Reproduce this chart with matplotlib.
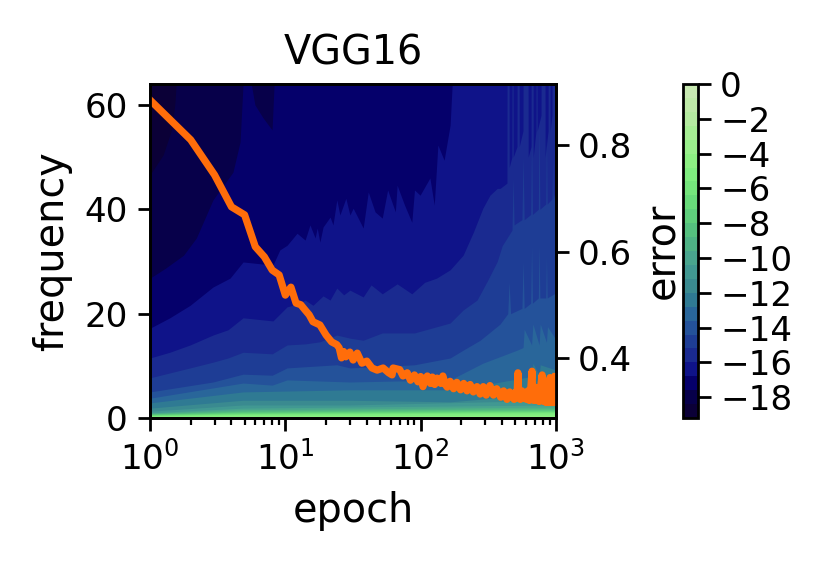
import matplotlib
matplotlib.use("Agg")
import matplotlib.pyplot as plt
from matplotlib.colors import ListedColormap, BoundaryNorm
from matplotlib.cm import ScalarMappable

# band colours, low error to high error
band_colors = ["#0b0037", "#07004a", "#05006b", "#0f1389", "#1a2a90", "#1e3d95",
               "#24529a", "#29669a", "#2f7a93", "#3a8a90", "#419892", "#49a58e",
               "#4eb285", "#55c07f", "#5fcf7c", "#68db7a", "#75e57c", "#80ed80",
               "#8df083", "#9af08c", "#a7ee94", "#b5eba0", "#bfeaa8", "#c8e9b2"]
levels = [-19.2, -18.4, -17.6, -16.8, -16.0, -15.2, -14.4, -13.6, -12.8, -12.0, -11.2,
          -10.4, -9.6, -8.8, -8.0, -7.2, -6.4, -5.6, -4.8, -4.0, -3.2, -2.4, -1.6, -0.8, 0.0]
cbar_ticks = [0, -2, -4, -6, -8, -10, -12, -14, -16, -18]

# contour boundaries: frequency below which the error exceeds each level
b1_e = [1, 1.25, 1.46, 1.53, 1.56, 1000]
b1_f = [46.6, 50.4, 55.6, 60.5, 64, 64]
b2_e = [1, 1.3, 1.77, 2.2, 2.92, 4.1, 4.63, 4.87, 1000]
b2_f = [26.8, 28.7, 31.2, 34.5, 41.8, 47.1, 52.9, 64, 64]
patch_e = [5.6, 5.96, 6.85, 7.98, 8.26]
patch_f = [64, 60, 57.5, 55.2, 64]
b3_e = [1, 1.4, 1.98, 2.92, 3.9, 4.87, 8.1, 9.1, 10.3, 12.2, 14, 15.2, 16.6, 17.2, 18, 19,
        21.4, 22.5, 24, 25.3, 28, 30, 31.7, 37.6, 41, 46, 52, 57, 65, 67, 76, 86, 90, 99,
        117, 126, 134, 149, 165, 171, 1000]
b3_f = [17.2, 19.2, 21.6, 25.1, 26.8, 29.9, 29.3, 32.2, 33.1, 35.4, 34.1, 37, 34.5, 36.4,
        33.7, 36.6, 38.5, 37, 41.8, 38.9, 42.1, 38.9, 40.2, 36.4, 43.3, 39.5, 38.3, 43.7,
        39.5, 44.6, 40.8, 37.5, 43.7, 42.7, 46, 40.8, 52.3, 49.4, 56.1, 64, 64]
b4_e = [1, 1.4, 1.98, 2.92, 3.77, 4.87, 8.1, 10.3, 12.2, 14, 16, 19, 21.4, 24, 27, 30, 37.6,
        43, 52, 67, 86, 107, 131, 165, 206, 245, 288, 325, 368, 386, 434, 435, 450, 451,
        472, 473, 482, 483, 515, 516, 534, 535, 570, 571, 622, 623, 654, 655, 678, 679,
        711, 712, 725, 726, 775, 776, 830, 831, 874, 875, 904, 905, 934, 935, 1000]
b4_f = [11.5, 12.6, 14, 15.9, 16.9, 19.2, 18.6, 21.3, 21.8, 22.6, 21.6, 23.4, 22.6, 24.9,
        23.6, 24.5, 23.2, 25.5, 23.8, 25.7, 23.8, 26, 26.8, 28.4, 31.2, 35.6, 40.2, 42.7,
        44, 44, 45, 64, 64, 48, 50, 64, 64, 50, 52, 64, 64, 52, 55, 64, 64, 50, 52, 64, 64,
        50, 55, 64, 64, 55, 58, 64, 64, 50, 55, 64, 64, 55, 58, 64, 64]
b5_e = [1, 1.98, 2.92, 3.77, 4.87, 8, 10.3, 14, 18, 24, 30, 37.6, 52, 90, 165, 206, 261,
        313, 368, 400, 473, 482, 490, 560, 571, 582, 650, 660, 670, 740, 750, 760, 840,
        850, 860, 935, 945, 955, 1000]
b5_f = [7.7, 9.6, 10.7, 11.5, 12.6, 12.3, 14, 14.2, 14.6, 15.9, 15.3, 14.9, 16.3, 16.3,
        18.2, 20.7, 22.6, 26.4, 30, 33, 36, 46, 37, 38, 50, 38, 39, 54, 39, 40, 56, 40, 41,
        54, 41, 42, 50, 42, 44]
b6_e = [1, 2.92, 4.87, 8, 10.3, 24, 30, 90, 165, 206, 275, 386, 440, 450, 462, 560, 571,
        582, 650, 660, 670, 740, 750, 760, 840, 850, 860, 1000]
b6_f = [5, 6.9, 8.4, 8.2, 9.6, 10.2, 9.6, 10.2, 11.5, 13, 14.9, 18, 20, 26, 20, 21, 30,
        21, 22, 33, 22, 23, 33, 23, 23, 31, 23, 24]
b7_e = [1, 4.87, 8, 10.3, 30, 165, 288, 516, 571, 582, 660, 675, 750, 765, 850, 865, 1000]
b7_f = [3.8, 6.7, 6.3, 7.3, 6.9, 7.3, 10.5, 13, 13.5, 17, 14, 18, 14, 18, 14.5, 17.5, 15]
b8_e = [1, 4.87, 30, 165, 288, 640, 660, 675, 750, 765, 1000]
b8_f = [2.9, 5, 5.4, 5.4, 6.3, 7.9, 8, 10.5, 8.2, 10.2, 9.2]
b9_e = [1, 4.87, 30, 165, 640, 1000]
b9_f = [1.9, 3.4, 3.4, 3.1, 4.4, 5]
b10_e = [1, 4.87, 30, 1000]
b10_f = [1.3, 2.5, 2.5, 3.4]
b11_e = [1, 4.87, 1000]
b11_f = [1.0, 1.9, 2.5]
b12_f = [0.9, 1.6, 2.1]
b13_f = [0.8, 1.35, 1.8]
b14_f = [0.7, 1.15, 1.55]
b15_f = [0.6, 1.0, 1.35]
b16_f = [0.5, 0.85, 1.2]
b17_f = [0.4, 0.7, 1.0]
b18_f = [0.25, 0.4, 0.6]

# training curve
curve_epoch = [1, 2, 3, 4, 5, 6, 7, 8, 9, 10, 11, 12, 13, 14, 15, 16, 18, 20, 22, 24, 25, 26,
               27, 28, 30, 31.7, 34, 36.8, 40, 43.7, 47.7, 52.8, 58, 61.5, 62.6,
               70, 74, 79.6, 84, 90, 95.5, 100, 104, 108, 112, 118, 122, 127, 132, 141, 146,
               152, 157, 165, 175, 185, 197, 208, 220, 232, 245, 261, 275, 290, 305, 325,
               345, 365, 390, 410, 434, 455, 478, 490, 505, 515, 523, 531,
               545, 560, 575, 590, 605, 620, 635, 650, 665, 672, 685, 700, 715, 735, 750,
               770, 790, 798, 810, 830, 845, 860, 875, 890, 903, 915, 928, 940, 955, 965,
               980, 990, 1000]
curve_acc = [0.885, 0.81, 0.744, 0.684, 0.669, 0.609, 0.59, 0.565, 0.556, 0.518, 0.533, 0.503,
             0.5, 0.49, 0.481, 0.468, 0.462, 0.443, 0.43, 0.425, 0.419, 0.4, 0.412, 0.402,
             0.411, 0.396, 0.409, 0.39, 0.394, 0.381, 0.377, 0.381, 0.372, 0.368, 0.381,
             0.378, 0.366, 0.372, 0.358, 0.368, 0.355, 0.365, 0.346, 0.36, 0.366, 0.352,
             0.364, 0.35, 0.362, 0.352, 0.366, 0.35, 0.345, 0.356, 0.342, 0.354, 0.34,
             0.352, 0.338, 0.35, 0.336, 0.346, 0.332, 0.346, 0.33, 0.348, 0.33, 0.342,
             0.326, 0.338, 0.322, 0.336, 0.326, 0.322, 0.336, 0.325, 0.372, 0.33, 0.322,
             0.338, 0.324, 0.335, 0.322, 0.338, 0.32, 0.34, 0.375, 0.335, 0.32, 0.345, 0.32,
             0.34, 0.318, 0.345, 0.368, 0.33, 0.318, 0.345, 0.316, 0.35, 0.316, 0.345, 0.363,
             0.316, 0.36, 0.316, 0.36, 0.316, 0.365, 0.316, 0.365]

boundaries = [(b1_e, b1_f), (b2_e, b2_f), (b3_e, b3_f), (b4_e, b4_f), (b5_e, b5_f),
              (b6_e, b6_f), (b7_e, b7_f), (b8_e, b8_f), (b9_e, b9_f), (b10_e, b10_f),
              (b11_e, b11_f), (b11_e, b12_f), (b11_e, b13_f), (b11_e, b14_f),
              (b11_e, b15_f), (b11_e, b16_f), (b11_e, b17_f), (b11_e, b18_f)]

plt.rcParams["axes.linewidth"] = 1.0
fig = plt.figure(figsize=(4.15, 2.85), dpi=200)
W, H = 830, 570
ax = fig.add_axes([150 / W, 1 - 418 / H, 406 / W, 334 / H])
ax.set_facecolor(band_colors[0])
for i, (e, f) in enumerate(boundaries):
    ax.fill_between(e, f, 0, color=band_colors[i + 1], lw=0, zorder=1 + i * 0.01)
    if i == 1:
        ax.fill_between(patch_e, patch_f, 64, color=band_colors[1], lw=0, zorder=1.011)
ax.set_xscale("log")
ax.set_xlim(1, 1000)
ax.set_ylim(0, 64)
ax.set_yticks([0, 20, 40, 60])
ax.tick_params(which="major", labelsize=12.3, length=4.5, width=1)
ax.tick_params(which="minor", length=2.5, width=0.8)
ax.set_xlabel("epoch", fontsize=14.3, labelpad=5.5)
ax.set_ylabel("frequency", fontsize=14.3, labelpad=4.5)
ax.set_title("VGG16", fontsize=14.3, pad=7)

ax2 = ax.twinx()
ax2.plot(curve_epoch, curve_acc, color="#ff6d0a", lw=2.6)
ax2.set_xscale("log")
ax2.set_xlim(1, 1000)
ax2.set_ylim(0.287, 0.915)
ax2.set_yticks([0.4, 0.6, 0.8])
ax2.tick_params(labelsize=12.3, length=4.5, width=1)

cax = fig.add_axes([683 / W, 1 - 418 / H, 15 / W, 334 / H])
sm = ScalarMappable(norm=BoundaryNorm(levels, len(band_colors)), cmap=ListedColormap(band_colors))
cb = fig.colorbar(sm, cax=cax, ticks=cbar_ticks, spacing="proportional")
cb.ax.minorticks_off()
cb.ax.tick_params(labelsize=12.3, length=4.5, width=1, pad=3.5)
cb.outline.set_linewidth(1.0)
cb.set_label("error", fontsize=14.3, labelpad=0)
cb.ax.yaxis.set_label_position("left")
fig.savefig("out.png", dpi=200)
